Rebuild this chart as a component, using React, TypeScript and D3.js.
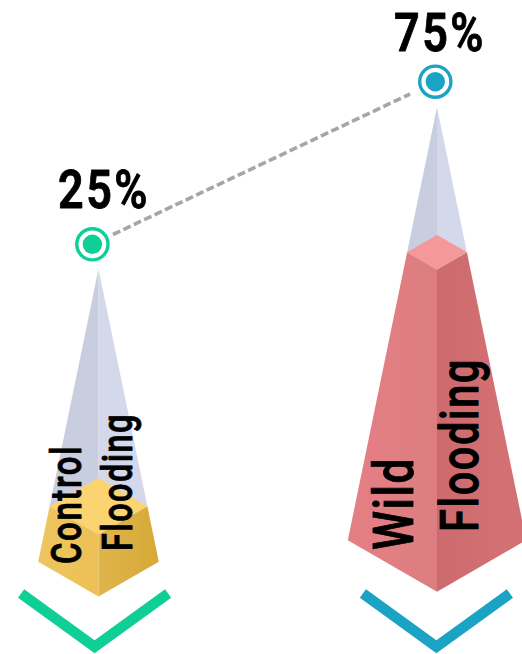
import React from "react";
import * as d3 from "d3";

const categories = ["Control Flooding", "Wild Flooding"];
const percents = [25, 75];
const ghostTops = [68, 101.3];
const baseLevels = [0.6, 1.6];
const labelLines = [["Control", "Flooding"], ["Wild", "Flooding"]];
const accentColors = ["#10cf96", "#1aa3c4"];
const palettes = [
  { l0: "#eec766", l1: "#ecc055", r0: "#dfb44c", r1: "#d6a936", top: "#fbd370" },
  { l0: "#e57f84", l1: "#dc7e81", r0: "#cd6a6e", r1: "#d27074", top: "#f4989a" },
];

const W = 522;
const H = 654;
const y = d3.scaleLinear().domain([0, 100]).range([599.5, 113.5]);
const x = d3.scaleOrdinal<string, number>().domain(categories).range([98.5, 437]);
const dotX = d3.scaleOrdinal<string, number>().domain(categories).range([92.4, 435.3]);
const dotY = d3.scaleOrdinal<string, number>().domain(categories).range([244.3, 81.7]);
const chevX = d3.scaleOrdinal<string, number>().domain(categories).range([94.6, 436.4]);
const line = d3.line<[number, number]>();
const closed = (p: [number, number][]) => line(p) + "Z";

const SLOPE = 0.206;
const ISO = 0.578;
const ks = SLOPE * ISO;
const FONT = "Roboto, 'Liberation Sans Narrow', sans-serif";

const valueText = [
  { x: 58, y: 208, w: 92, size: 54 },
  { x: 394, y: 51, w: 92, size: 54 },
];
const labelPos = [
  [{ bx: 81, y: 564, len: 119, size: 42 }, { bx: 132, y: 551, len: 138, size: 43 }],
  [{ bx: 413, y: 550, len: 93, size: 55 }, { bx: 478, y: 532, len: 174, size: 53 }],
];

export default function App() {
  return (
    <svg width={W} height={H} viewBox={`0 0 ${W} ${H}`} style={{ position: "absolute", left: 0, top: 0 }}>
      <defs>
        {categories.map((c, i) => {
          const cx = x(c);
          return (
            <React.Fragment key={c}>
              <linearGradient id={`l${i}`} gradientUnits="userSpaceOnUse" x1={cx - 90} x2={cx} y1="0" y2="0">
                <stop offset="0" stopColor={palettes[i].l0} />
                <stop offset="1" stopColor={palettes[i].l1} />
              </linearGradient>
              <linearGradient id={`r${i}`} gradientUnits="userSpaceOnUse" x1={cx} x2={cx + 62} y1="0" y2="0">
                <stop offset="0" stopColor={palettes[i].r0} />
                <stop offset="1" stopColor={palettes[i].r1} />
              </linearGradient>
            </React.Fragment>
          );
        })}
      </defs>
      <line
        x1={113} y1={234.5} x2={410} y2={94}
        stroke="#a6a6a6" strokeWidth={3.6} strokeDasharray="8 3.5"
      />
      {categories.map((c, i) => {
        const cx = x(c);
        const tip = y(ghostTops[i]);
        const apex = y(percents[i]);
        const bottom = y(baseLevels[i]);
        const corner = (apex - ks * tip) / (1 - ks);
        const base = (bottom + ks * tip) / (1 + ks);
        const capHalf = SLOPE * (corner - tip);
        const baseHalf = SLOPE * (base - tip);
        const front = corner + ISO * capHalf;
        const dx = dotX(c);
        const dy = dotY(c);
        const chevC = chevX(c);
        const accent = accentColors[i];
        return (
          <g key={c}>
            <path d={closed([[cx, tip], [cx - capHalf, corner], [cx, front]])} fill="#c8cddf" />
            <path d={closed([[cx, tip], [cx + capHalf, corner], [cx, front]])} fill="#d3d8ea" />
            <path d={closed([[cx - capHalf, corner], [cx, front], [cx, bottom], [cx - baseHalf, base]])} fill={`url(#l${i})`} />
            <path d={closed([[cx + capHalf, corner], [cx, front], [cx, bottom], [cx + baseHalf, base]])} fill={`url(#r${i})`} />
            <path d={closed([[cx, apex], [cx + capHalf, corner], [cx, front], [cx - capHalf, corner]])} fill={palettes[i].top} />
            <circle cx={dx} cy={dy} r={15.6} fill="#fff" stroke={accent} strokeWidth={3.4} />
            <circle cx={dx} cy={dy} r={9.7} fill={accent} />
            <path
              d={line([[chevC - 73.5, 593.6], [chevC, 646.8], [chevC + 73.5, 593.6]]) as string}
              fill="none" stroke={accent} strokeWidth={10.5}
            />
            <text
              x={valueText[i].x} y={valueText[i].y}
              textLength={valueText[i].w} lengthAdjust="spacingAndGlyphs"
              fontFamily={FONT} fontWeight={600} fontSize={valueText[i].size} letterSpacing={3} fill="#000"
              stroke="#000" strokeWidth={0.9} strokeLinejoin="round"
            >
              {`${percents[i]}%`}
            </text>
            {labelLines[i].map((t, j) => {
              const p = labelPos[i][j];
              return (
                <text
                  key={t}
                  transform={`translate(${p.bx},${p.y}) rotate(-90)`}
                  textLength={p.len} lengthAdjust="spacingAndGlyphs"
                  fontFamily={FONT} fontWeight={500} fontSize={p.size} letterSpacing={2} fill="#000"
                  stroke="#000" strokeWidth={0.9} strokeLinejoin="round"
                >
                  {t}
                </text>
              );
            })}
          </g>
        );
      })}
    </svg>
  );
}
